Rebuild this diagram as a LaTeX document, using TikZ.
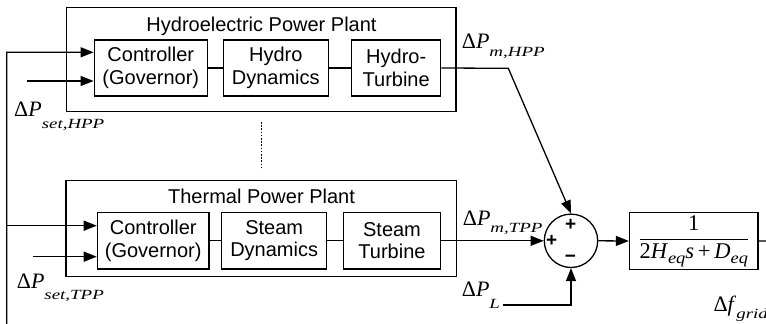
\documentclass[tikz,border=0pt]{standalone}
\usepackage{fontspec}
\usepackage{amsmath}
\usepackage{graphicx}
\setmainfont{Liberation Sans}
\newfontfamily\tnr{Liberation Serif}
\usetikzlibrary{arrows.meta,calc}
\newcommand\dlab[3]{{\tnr\fontsize{22}{24}\selectfont Δ\textit{#3}\raisebox{-#1pt}{\fontsize{14}{15}\selectfont\scalebox{1.35}[1]{\textit{#2}}}}}
\newcommand\eqsub{\raisebox{-4.5pt}{\fontsize{16}{17}\selectfont\scalebox{1.15}[1]{\textit{eq}}}}
\tikzset{
  blk/.style={draw, line width=1.3pt, inner sep=0pt, align=center,
    font=\fontsize{20}{22.5}\selectfont},
  frame/.style={draw, line width=1.3pt, inner sep=0pt},
  ttl/.style={inner sep=0pt, anchor=base, font=\fontsize{20}{22}\selectfont},
  lab/.style={inner sep=0pt, anchor=base west},
  wire/.style={line width=1.3pt},
  arr/.style={line width=1.3pt, -{Triangle[length=13pt,width=10pt]}},
  sgn/.style={inner sep=0pt, font=\fontsize{19}{20}\selectfont\bfseries},
}
\begin{document}
\begin{tikzpicture}[x=1pt,y=-1pt]
\path[use as bounding box, clip] (0,0) rectangle (766,324);
% outer frames
\node[frame, minimum width=389.3pt, minimum height=104.4pt] (hpp) at (261.35,59.5) {};
\node[frame, minimum width=390.7pt, minimum height=96pt] (tpp) at (261.35,228.7) {};
\node[ttl] (hppt) at (261.5,31.7) {Hydroelectric Power Plant};
\node[ttl] (tppt) at (261.5,203.3) {Thermal Power Plant};
% HPP blocks
\node[blk, minimum width=113pt, minimum height=56pt] (hc) at (150.8,68) {Controller\\(Governor)};
\node[blk, minimum width=105pt, minimum height=56pt] (hd) at (275.8,68) {Hydro\\Dynamics};
\node[blk, minimum width=89pt, minimum height=56pt] (ht) at (396.2,68) {Hydro-\\Turbine};
% TPP blocks
\node[blk, minimum width=111.7pt, minimum height=56.3pt] (tc) at (153.2,240.8) {Controller\\(Governor)};
\node[blk, minimum width=105pt, minimum height=56.3pt] (td) at (274.2,240.8) {Steam\\Dynamics};
\node[blk, minimum width=97.4pt, minimum height=56.3pt] (tt) at (392,240.8) {Steam\\Turbine};
% summing junction
\node[draw, circle, line width=1.3pt, minimum size=53.4pt, inner sep=0pt] (S) at (571,240.8) {};
\node[sgn] (sp1) at (570.7,225) {+};
\node[sgn] (sp2) at (551.7,240.7) {+};
\node[sgn] (sm) at (570.5,259.3) {−};
% plant block
\node[blk, minimum width=128.5pt, minimum height=57pt] (G) at (693.75,241)
  {\tnr\fontsize{22.5}{24}\selectfont$\dfrac{\text{1}}{\text{2\textit{H}\eqsub\textit{s}\,+\,\textit{D}\eqsub}}$};
% coordinates
\coordinate (k1) at (508.3,68.3);
\coordinate (L0) at (503.3,305);
\coordinate (fbR) at (785,240.8);
\coordinate (fbB) at (785,345);
\coordinate (fbL) at (6.7,345);
\coordinate (fbT) at (6.7,52.3);
\coordinate (fbM) at (6.7,225.7);
\coordinate (sh) at (27.3,81);
\coordinate (st) at (33.3,256.7);
\coordinate (d1) at (261.7,122);
\coordinate (d2) at (261.7,170);
% connectors
\draw[wire] (hc.east) -- (hd.west);
\draw[wire] (hd.east) -- (ht.west);
\draw[wire] (tc.east) -- (td.west);
\draw[wire] (td.east) -- (tt.west);
\draw[arr] (ht.east) -- (k1) -- (S.north);
\draw[arr] (tt.east) -- (S.west);
\draw[arr] (L0) -| (S.south);
\draw[arr] (S.east) -- (G.west);
\draw[arr] (G.east) -- (fbR) -- (fbB) -- (fbL) -- (fbT) -- (fbT -| hc.west);
\draw[arr] (fbM) -- (fbM -| tc.west);
\draw[arr] (sh) -- (sh -| hc.west);
\draw[arr] (st) -- (st -| tc.west);
\draw[line width=1.3pt, dash pattern=on 1.6pt off 1.6pt] (d1) -- (d2);
% labels
\node[lab] (lmh) at (461.7,48.3) {\dlab{7.7}{m,HPP}{P}};
\node[lab] (lmt) at (462.7,225) {\dlab{7}{m,TPP}{P}};
\node[lab] (lsh) at (14,116.7) {\dlab{12}{set,HPP}{P}};
\node[lab] (lst) at (16.7,288.3) {\dlab{11}{set,TPP}{P}};
\node[lab] (lL) at (461.7,296) {\dlab{12}{L}{P}};
\node[lab] (lf) at (713.3,311.7) {\dlab{7}{grid}{f}};
\end{tikzpicture}
\end{document}
